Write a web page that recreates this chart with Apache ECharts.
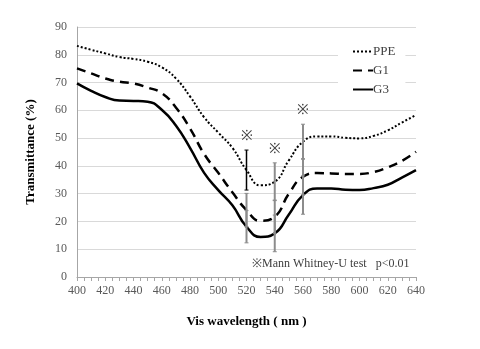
<!DOCTYPE html>
<html>
<head>
<meta charset="utf-8">
<script src="https://cdn.jsdelivr.net/npm/echarts@6/dist/echarts.min.js"></script>
<style>html,body{margin:0;padding:0;background:#fff}#c{width:480px;height:349px}</style>
</head>
<body>
<div id="c"></div>
<script>
var wavelengths = [400,410,420,430,440,450,460,470,480,490,500,510,520,530,540,550,560,570,580,590,600,610,620,630,640];
var ppe = [83.2,81.8,80.5,79.2,78.5,77.5,75.5,71.5,65,57.5,52,46.5,38.5,33,34.3,42,48.7,50.6,50.6,50.1,49.9,50.8,52.8,55.6,58.3];
var g1  = [75.1,73.3,71.5,70.3,69.7,68.2,66.2,61,53.5,44.3,37.5,30.5,24.1,20.2,21.7,30,36.1,37.4,37.3,37.1,37.1,37.8,39.5,41.8,45.1];
var g3  = [69.7,67,64.8,63.5,63.4,63.1,60.2,54.5,46.5,37.5,31.3,25.8,18.1,14.4,15.7,22.5,29.5,31.9,31.9,31.4,31.3,32,33.2,35.8,38.5];
var errWavelengths = [520,540,560];
var ppeErr = [7.2,6.8,6.3];
var g1Err  = [6,6,6.5];
var g3Err  = [5.8,6.6,6.9];
var sigMark = '※';
var note = '※Mann Whitney-U test   p<0.01';
var xTitle = 'Vis wavelength ( nm )';
var yTitle = 'Transmittance (%)';

var FONT = "'Liberation Serif', 'Times New Roman', serif";
function pairs(vals){ return wavelengths.map(function(w,i){ return [w, vals[i]]; }); }
function errData(vals, errs){
  return errWavelengths.map(function(w,i){
    var v = vals[wavelengths.indexOf(w)];
    return [w, v, errs[i]];
  });
}
function errSeries(name, vals, errs, colorFn, width){
  return {
    type:'custom', name:name+'err', z:5, silent:true,
    data: errData(vals, errs),
    renderItem: function(params, api){
      var x = api.value(0), y = api.value(1), e = api.value(2);
      var top = api.coord([x, y+e]), bot = api.coord([x, y-e]);
      var col = colorFn(params.dataIndex);
      var st = {stroke: col, lineWidth: width(params.dataIndex)};
      return {type:'group', children:[
        {type:'line', shape:{x1:top[0],y1:top[1],x2:bot[0],y2:bot[1]}, style:st},
        {type:'line', shape:{x1:top[0]-2,y1:top[1],x2:top[0]+2,y2:top[1]}, style:{stroke:col,lineWidth:1}},
        {type:'line', shape:{x1:bot[0]-2,y1:bot[1],x2:bot[0]+2,y2:bot[1]}, style:{stroke:col,lineWidth:1}}
      ]};
    }
  };
}
var chart = echarts.init(document.getElementById('c'), null, {renderer:'canvas'});
var gray = function(){ return '#8c8c8c'; };
var w2 = function(){ return 2; };
chart.setOption({
  animation:false,
  backgroundColor:'#fff',
  grid:{left:77, right:64, top:27, bottom:72},
  xAxis:{type:'value', min:400, max:640, interval:20,
    axisLine:{lineStyle:{color:'#a6a6a6'}},
    axisTick:{show:true, length:4, lineStyle:{color:'#a6a6a6'}},
    minorTick:{show:true, splitNumber:4, length:4, lineStyle:{color:'#a6a6a6'}},
    splitLine:{show:false},
    axisLabel:{color:'#595959', fontFamily:FONT, fontSize:12, margin:8},
    name:xTitle, nameLocation:'middle', nameGap:38,
    nameTextStyle:{fontFamily:FONT, fontSize:13, fontWeight:'bold', color:'#000'}
  },
  yAxis:{type:'value', min:0, max:90, interval:10,
    axisLine:{show:true, lineStyle:{color:'#a6a6a6'}},
    axisTick:{show:false},
    splitLine:{lineStyle:{color:'#d9d9d9'}},
    axisLabel:{color:'#595959', fontFamily:FONT, fontSize:12, margin:10},
    name:yTitle, nameLocation:'middle', nameGap:40,
    nameTextStyle:{fontFamily:FONT, fontSize:13, fontWeight:'bold', color:'#000'}
  },
  legend:{orient:'vertical', left:338, top:42, width:72,
    backgroundColor:'#fff', padding:[3,10,4,14], itemGap:6, itemWidth:20, itemHeight:14,
    data:['PPE','G1','G3'],
    itemStyle:{color:'transparent', borderWidth:0, opacity:0},
    textStyle:{fontFamily:FONT, fontSize:13, color:'#404040', padding:[0,0,0,-5]}
  },
  series:[
    errSeries('G3', g3, g3Err, gray, w2),
    errSeries('G1', g1, g1Err, gray, w2),
    errSeries('PPE', ppe, ppeErr, function(i){ return i===0 ? '#000' : '#8c8c8c'; }, function(i){ return i===0 ? 1.5 : 2; }),
    {type:'line', name:'PPE', data:pairs(ppe), smooth:0.5, symbol:'none', z:3,
      itemStyle:{color:'#000'}, lineStyle:{color:'#000', width:2, type:[2,2]}},
    {type:'line', name:'G1', data:pairs(g1), smooth:0.5, symbol:'none', z:3,
      itemStyle:{color:'#000'}, lineStyle:{color:'#000', width:2.5, type:[9,6]}},
    {type:'line', name:'G3', data:pairs(g3), smooth:0.5, symbol:'none', z:3,
      itemStyle:{color:'#000'}, lineStyle:{color:'#000', width:2.5, type:'solid'}},
    {type:'custom', name:'sig', z:6, silent:true,
      data: errData(ppe, ppeErr),
      renderItem:function(params, api){
        var p = api.coord([api.value(0), api.value(1)+api.value(2)]);
        return {type:'text', x:p[0], y:p[1]-14,
          style:{text:sigMark, fill:'#404040', font:'14px '+FONT, align:'center', verticalAlign:'middle'}};
      }
    }
  ],
  graphic:[
    {type:'text', left:252, top:258, z:10,
      style:{text:note, fill:'#404040', font:'12px '+FONT, backgroundColor:'#fff'}}
  ]
});
</script>
</body>
</html>
